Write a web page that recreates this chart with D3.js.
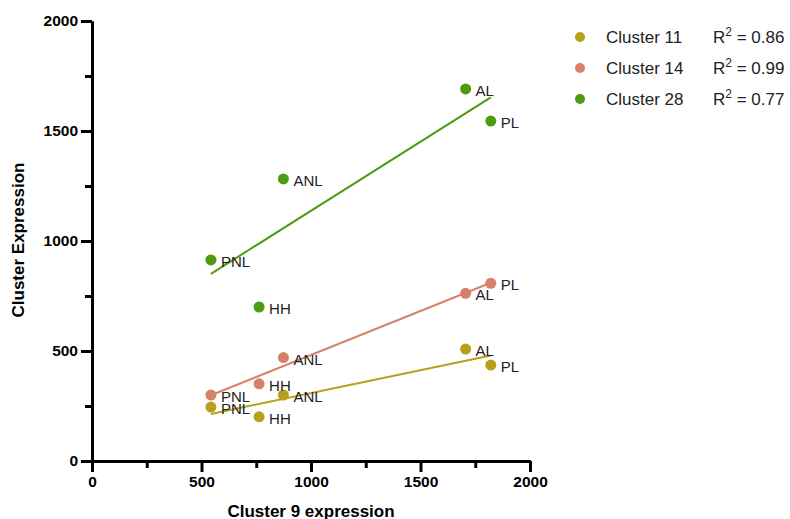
<!DOCTYPE html>
<html>
<head>
<meta charset="utf-8">
<script src="https://cdn.jsdelivr.net/npm/d3@7"></script>
<style>
  body { margin: 0; background: #fff; }
  svg { font-family: Arial, "Liberation Sans", Helvetica, sans-serif; }
</style>
</head>
<body>
<div id="container"></div>
<script>
const width = 790;
const height = 519;

// Cluster 9 expression per sample (shared x)
const samples = ["PNL", "HH", "ANL", "AL", "PL"];
const cluster9 = [543, 763, 874, 1706, 1821];

// Expression of the other clusters
const cluster11 = [245, 201, 300, 509, 436];
const cluster14 = [300, 351, 470, 762, 808];
const cluster28 = [914, 700, 1282, 1691, 1545];

const seriesNames = ["Cluster 11", "Cluster 14", "Cluster 28"];
const rSquared = ["0.86", "0.99", "0.77"];
const colors = ["#b7a11c", "#d6826a", "#4d9b11"];

const majorTicks = [0, 500, 1000, 1500, 2000];
const minorTicks = [250, 750, 1250, 1750];

const series = [cluster11, cluster14, cluster28].map((vals, i) => ({
  name: seriesNames[i],
  r2: rSquared[i],
  color: colors[i],
  points: vals.map((v, j) => ({ label: samples[j], x: cluster9[j], y: v }))
}));

const x = d3.scaleLinear().domain([0, 2000]).range([92, 530]);
const y = d3.scaleLinear().domain([0, 2000]).range([461, 21]);

const svg = d3.select("#container")
  .append("svg")
  .attr("width", width)
  .attr("height", height);

// axes: minor ticks first, then major with labels
function styleAxis(g) {
  g.selectAll("path, line").attr("stroke", "#000").attr("stroke-width", 3);
  g.selectAll("text")
    .attr("fill", "#000")
    .style("font-size", "15.5px")
    .style("font-weight", "bold");
}

svg.append("g")
  .attr("transform", `translate(0,${y(0)})`)
  .call(d3.axisBottom(x).tickValues(minorTicks).tickSize(7).tickSizeOuter(0).tickFormat(""))
  .call(styleAxis);
svg.append("g")
  .attr("transform", `translate(0,${y(0)})`)
  .call(d3.axisBottom(x).tickValues(majorTicks).tickSize(11).tickSizeOuter(0).tickPadding(4).tickFormat(d3.format("d")))
  .call(styleAxis);

svg.append("g")
  .attr("transform", `translate(${x(0)},0)`)
  .call(d3.axisLeft(y).tickValues(minorTicks).tickSize(7).tickSizeOuter(0).tickFormat(""))
  .call(styleAxis);
svg.append("g")
  .attr("transform", `translate(${x(0)},0)`)
  .call(d3.axisLeft(y).tickValues(majorTicks).tickSize(11).tickSizeOuter(0).tickPadding(3).tickFormat(d3.format("d")))
  .call(styleAxis);

// axis titles
svg.append("text")
  .attr("x", (x(0) + x(2000)) / 2)
  .attr("y", 517)
  .attr("text-anchor", "middle")
  .style("font-size", "17px")
  .style("font-weight", "bold")
  .text("Cluster 9 expression");

svg.append("text")
  .attr("transform", "translate(24,240) rotate(-90)")
  .attr("text-anchor", "middle")
  .style("font-size", "17px")
  .style("font-weight", "bold")
  .text("Cluster Expression");

// least squares fit for each series
function fit(points) {
  const mx = d3.mean(points, d => d.x);
  const my = d3.mean(points, d => d.y);
  const sxy = d3.sum(points, d => (d.x - mx) * (d.y - my));
  const sxx = d3.sum(points, d => (d.x - mx) ** 2);
  const slope = sxy / sxx;
  const [x0, x1] = d3.extent(points, d => d.x);
  return [[x0, my + slope * (x0 - mx)], [x1, my + slope * (x1 - mx)]];
}

const line = d3.line().x(d => x(d[0])).y(d => y(d[1]));

series.forEach(s => {
  svg.append("path")
    .datum(fit(s.points))
    .attr("fill", "none")
    .attr("stroke", s.color)
    .attr("stroke-width", 2)
    .attr("d", line);
});

series.forEach(s => {
  svg.append("g").selectAll("circle")
    .data(s.points)
    .join("circle")
    .attr("cx", d => x(d.x))
    .attr("cy", d => y(d.y))
    .attr("r", 5.5)
    .attr("fill", s.color);
});

series.forEach(s => {
  svg.append("g").selectAll("text")
    .data(s.points)
    .join("text")
    .attr("x", d => x(d.x) + 10)
    .attr("y", d => y(d.y) + 7)
    .attr("fill", "#222")
    .style("font-size", "15px")
    .text(d => d.label);
});

// legend
const legend = svg.append("g");
series.forEach((s, i) => {
  const ly = 37 + i * 31;
  legend.append("circle")
    .attr("cx", 580).attr("cy", ly).attr("r", 5).attr("fill", s.color);
  legend.append("text")
    .attr("x", 606).attr("y", ly + 6)
    .attr("fill", "#222")
    .style("font-size", "17px")
    .text(s.name);
  const t = legend.append("text")
    .attr("x", 713).attr("y", ly + 6)
    .attr("fill", "#222")
    .style("font-size", "17px");
  t.append("tspan").text("R");
  t.append("tspan").attr("dy", -7).style("font-size", "12px").text("2");
  t.append("tspan").attr("dy", 7).text(" = " + s.r2);
});
</script>
</body>
</html>
